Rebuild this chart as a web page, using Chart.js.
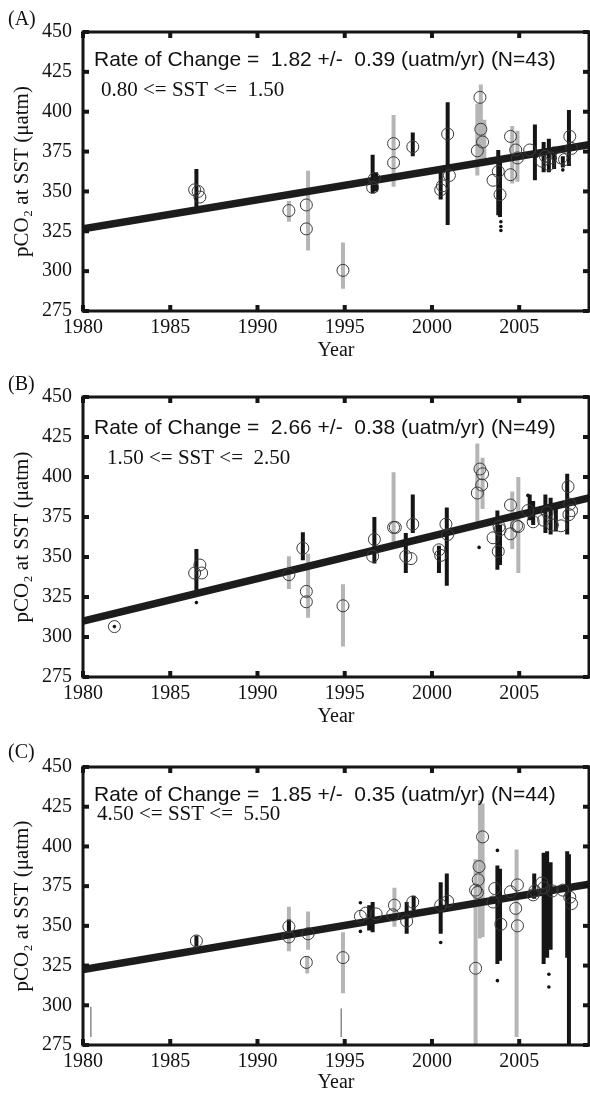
<!DOCTYPE html>
<html>
<head>
<meta charset="utf-8">
<script src="https://cdn.jsdelivr.net/npm/chart.js@4.4.1/dist/chart.umd.min.js"></script>
<style>
    html, body { margin: 0; padding: 0; background: #fff; }
    body { width: 590px; height: 1095px; position: relative; overflow: hidden; }
    .panel { position: absolute; left: 0; width: 590px; height: 365px; }
</style>
</head>
<body>
<div class="panel" style="top:0px"><canvas id="chartA" width="590" height="365"></canvas></div>
<div class="panel" style="top:365px"><canvas id="chartB" width="590" height="365"></canvas></div>
<div class="panel" style="top:730px"><canvas id="chartC" width="590" height="365"></canvas></div>
<script>
// axis ticks, shared by the three panels
var xTicks = [1980, 1985, 1990, 1995, 2000, 2005];
var yTicks = [275, 300, 325, 350, 375, 400, 425, 450];

// (A) 0.80 <= SST <= 1.50
var aFitYears = [1980, 2009];
var aFitValues = [326.5, 379.3];
var aCircleYears = [1986.4, 1986.6, 1986.7, 1991.8, 1992.8, 1992.8, 1994.9, 1996.6, 1996.7, 1997.8, 1997.8, 1998.9,
    2000.5, 2000.6, 2000.9, 2001.0, 2002.6, 2002.75, 2002.8, 2002.9, 2003.5, 2003.8, 2003.9,
    2004.5, 2004.5, 2004.8, 2004.9, 2005.6, 2006.3, 2006.5, 2006.7, 2006.8, 2007.4, 2007.6, 2007.9, 2008.0];
var aCircleValues = [351, 350, 346.5, 338, 341.5, 326.5, 300.5, 352.5, 358, 380, 368, 378,
    351, 353.5, 386, 360, 375.5, 409, 389, 381, 357, 362.5, 348,
    384.5, 360.5, 376, 371, 376, 369, 372, 367, 371, 371, 370, 384.5, 377];
var aBlackYears = [1986.5, 1996.6, 1996.8, 1998.9, 2000.5, 2000.9, 2003.8, 2003.9, 2005.9, 2006.4, 2006.7, 2007.0, 2007.5, 2007.85];
var aBlackLow = [338, 349, 350, 372, 345, 329, 335, 334, 357, 362, 362, 364, 365, 366];
var aBlackHigh = [364, 373, 362, 387, 362, 406, 376, 372, 392, 381, 383, 378, 372, 401];
var aGrayYears = [1991.8, 1992.9, 1994.9, 1997.8, 2002.6, 2002.8, 2003.0, 2004.6, 2004.9];
var aGrayLow = [331, 313, 289, 353, 360, 368, 370, 355, 356];
var aGrayHigh = [344, 363, 318, 398, 405, 417, 395, 391, 388];
var aDotYears = [2003.95, 2003.95, 2003.95, 2007.5];
var aDotValues = [331, 328, 325.5, 363.5];

// (B) 1.50 <= SST <= 2.50
var bFitYears = [1980, 2009];
var bFitValues = [310, 387];
var bCircleYears = [1981.8, 1986.4, 1986.7, 1986.8, 1991.8, 1992.6, 1992.8, 1992.8, 1994.9, 1996.6, 1996.7,
    1997.8, 1997.9, 1998.5, 1998.8, 1998.9, 2000.4, 2000.5, 2000.8, 2000.9, 2002.6, 2002.75, 2002.85, 2002.9,
    2003.5, 2003.8, 2003.85, 2003.9, 2004.5, 2004.5, 2004.85, 2004.95, 2005.5, 2005.8, 2006.4, 2006.6, 2006.9,
    2007.4, 2007.8, 2007.85, 2007.9, 2008.0];
var bCircleValues = [306.5, 340, 345, 340, 339, 355.5, 328.5, 322, 319.5, 350.5, 361,
    368.5, 368.5, 350.5, 349, 370.5, 354.5, 351, 370.5, 364, 390, 405, 395, 402,
    362, 353.5, 369, 367, 382.5, 364.5, 369.5, 369, 379, 372, 373, 378, 370,
    369.5, 394, 376.5, 383, 379];
var bBlackYears = [1986.5, 1992.6, 1996.7, 1998.5, 1998.9, 2000.4, 2000.85, 2003.75, 2003.9, 2005.6, 2005.8, 2006.5, 2006.8, 2007.1, 2007.75];
var bBlackLow = [329, 348, 346, 340, 365, 340, 332, 342, 345, 373, 370, 365, 364, 366, 364];
var bBlackHigh = [355, 365.5, 375, 365, 389, 357, 381, 379, 370, 389, 385, 389, 387, 380, 402];
var bGrayYears = [1991.8, 1992.9, 1994.9, 1997.8, 2002.6, 2002.9, 2004.6, 2004.95];
var bGrayLow = [330, 312, 294, 358, 372, 380, 355, 340];
var bGrayHigh = [350.5, 352, 333, 403, 421, 412, 391, 400];
var bDotYears = [1981.8, 1986.5, 2002.7, 2005.5];
var bDotValues = [306.5, 321.5, 356, 388.5];

// (C) 4.50 <= SST <= 5.50
var cFitYears = [1980, 2009];
var cFitValues = [322.5, 376.2];
var cCircleYears = [1986.5, 1991.8, 1991.8, 1992.9, 1992.8, 1994.9, 1995.9, 1996.2, 1996.8, 1997.85, 1997.75,
    1998.55, 1998.9, 2000.5, 2000.9, 2002.5, 2002.6, 2002.65, 2002.7, 2002.9, 2002.5, 2003.6, 2003.5, 2003.95,
    2004.5, 2004.9, 2004.8, 2004.9, 2005.8, 2005.9, 2006.3, 2006.4, 2006.9, 2007.5, 2008.0, 2007.9];
var cCircleValues = [340.5, 349.5, 343, 345, 327, 330, 356, 358, 357.5, 363, 357,
    353, 365, 363, 365.5, 372.5, 371, 379, 387.3, 406, 323.3, 373.5, 365, 351,
    371.5, 375.8, 361, 350, 369.5, 372, 377, 374, 372, 372.5, 364, 368];
var cBlackYears = [1986.5, 1991.8, 1996.4, 1996.6, 1998.55, 1998.95, 2000.5, 2000.85, 2003.75, 2003.9, 2005.86, 2006.4, 2006.6, 2006.8, 2007.75, 2007.85];
var cBlackLow = [337, 345, 347, 346, 345, 360, 345, 361, 326, 328, 367, 326, 330, 335, 330, 275];
var cBlackHigh = [344, 354, 363, 365, 365, 369, 377.5, 383, 388, 386, 383, 396, 397, 390, 397, 395];
var cGrayYears = [1991.8, 1992.9, 1992.85, 1994.9, 1997.85, 2002.5, 2002.75, 2002.9, 2004.85];
var cGrayLow = [334, 335, 320, 307.5, 349.5, 275, 342, 343, 280];
var cGrayHigh = [362, 359, 331, 346, 374, 392, 429, 427, 398];
var cThinYears = [1980.45, 1994.8];
var cThinLow = [280, 280];
var cThinHigh = [299, 298];
var cDotYears = [1995.9, 1995.9, 2000.5, 2003.75, 2003.75, 2006.7, 2006.7];
var cDotValues = [364.5, 346.5, 339.5, 397.5, 315.5, 319.5, 311.5];

var SERIF = "'Liberation Serif', 'DejaVu Serif', serif";
var SANS = "'Liberation Sans', Arial, sans-serif";

function points(xs, ys) {
    return xs.map(function (x, i) { return { x: x, y: ys[i] }; });
}

// each column: bottom point, top point, then a gap
function columns(xs, low, high) {
    var pts = [];
    for (var i = 0; i < xs.length; i++) {
        pts.push({ x: xs[i], y: low[i] });
        pts.push({ x: xs[i], y: high[i] });
        pts.push({ x: xs[i], y: null });
    }
    return pts;
}

// frame, inward ticks and the panel texts
var panelText = {
    id: 'panelText',
    afterDatasetsDraw: function (chart, args, opts) {
        var ctx = chart.ctx;
        var a = chart.chartArea;
        var sx = chart.scales.x;
        var sy = chart.scales.y;
        ctx.save();
        ctx.fillStyle = '#151515';
        xTicks.forEach(function (v) {
            var px = sx.getPixelForValue(v);
            ctx.fillRect(px - 2, a.bottom - 6, 4, 6);
            ctx.fillRect(px - 2, a.top, 4, 6);
        });
        yTicks.forEach(function (v) {
            var py = sy.getPixelForValue(v);
            ctx.fillRect(a.left, py - 2, 6, 4);
            ctx.fillRect(a.right - 6, py - 2, 6, 4);
        });
        ctx.strokeStyle = '#151515';
        ctx.lineWidth = 3;
        ctx.strokeRect(a.left, a.top, a.right - a.left, a.bottom - a.top);

        ctx.textBaseline = 'middle';
        ctx.textAlign = 'left';
        ctx.fillStyle = '#111';
        ctx.font = '20px ' + SERIF;
        ctx.fillText(opts.label, 8, opts.labelY);
        ctx.font = '21px ' + SANS;
        ctx.fillText(opts.rate, 94, opts.rateY);
        ctx.font = '21px ' + SERIF;
        ctx.fillText(opts.range, opts.rangeX, opts.rangeY);
        ctx.restore();
    }
};

function makePanel(id, p) {
    var ctx = document.getElementById(id);
    new Chart(ctx, {
        type: 'scatter',
        data: {
            datasets: [
                {
                    data: points(p.circleYears, p.circleValues),
                    pointRadius: 6,
                    borderColor: '#3a3a3a',
                    borderWidth: 1,
                    backgroundColor: 'rgba(0,0,0,0)'
                },
                {
                    data: points(p.dotYears, p.dotValues),
                    pointRadius: 1.8,
                    borderWidth: 0,
                    backgroundColor: '#111'
                },
                {
                    data: points(p.fitYears, p.fitValues),
                    showLine: true,
                    borderColor: '#1c1c1c',
                    borderWidth: 7.5,
                    pointRadius: 0
                },
                {
                    data: columns(p.blackYears, p.blackLow, p.blackHigh),
                    showLine: true,
                    spanGaps: false,
                    borderColor: '#151515',
                    borderWidth: 4,
                    pointRadius: 0
                },
                {
                    data: columns(p.grayYears, p.grayLow, p.grayHigh),
                    showLine: true,
                    spanGaps: false,
                    borderColor: '#b5b5b5',
                    borderWidth: 4,
                    pointRadius: 0
                },
                {
                    data: columns(p.thinYears || [], p.thinLow || [], p.thinHigh || []),
                    showLine: true,
                    spanGaps: false,
                    borderColor: '#8a8a8a',
                    borderWidth: 1.5,
                    pointRadius: 0
                }
            ]
        },
        options: {
            responsive: false,
            animation: false,
            events: [],
            layout: {
                autoPadding: false,
                padding: { top: p.top, right: 1, left: 0, bottom: 0 }
            },
            plugins: {
                legend: { display: false },
                tooltip: { enabled: false },
                panelText: p.text
            },
            scales: {
                x: {
                    type: 'linear',
                    min: 1980,
                    max: 2009,
                    afterBuildTicks: function (s) {
                        s.ticks = xTicks.map(function (v) { return { value: v }; });
                    },
                    afterFit: function (s) { s.height = 365 - p.bottom; },
                    grid: { display: false, drawTicks: false },
                    border: { display: false },
                    ticks: {
                        padding: 5,
                        color: '#111',
                        maxRotation: 0,
                        autoSkip: false,
                        font: { family: SERIF, size: 20 },
                        callback: function (v) { return String(v); }
                    },
                    title: {
                        display: true,
                        text: 'Year',
                        color: '#111',
                        font: { family: SERIF, size: 20 },
                        padding: { top: 0, bottom: p.yearPad }
                    }
                },
                y: {
                    min: 275,
                    max: 450,
                    afterBuildTicks: function (s) {
                        s.ticks = yTicks.map(function (v) { return { value: v }; });
                    },
                    afterFit: function (s) { s.width = 83; },
                    grid: { display: false, drawTicks: false },
                    border: { display: false },
                    ticks: {
                        padding: 11,
                        color: '#111',
                        autoSkip: false,
                        font: { family: SERIF, size: 20 },
                        callback: function (v) { return String(v); }
                    },
                    title: {
                        display: true,
                        text: 'pCO\u2082 at SST (\u03bcatm)',
                        color: '#111',
                        font: { family: SERIF, size: 21 },
                        padding: { top: 10, bottom: 0 }
                    }
                }
            }
        },
        plugins: [panelText]
    });
}

makePanel('chartA', {
    top: 32, bottom: 311, yearPad: 2,
    fitYears: aFitYears, fitValues: aFitValues,
    circleYears: aCircleYears, circleValues: aCircleValues,
    blackYears: aBlackYears, blackLow: aBlackLow, blackHigh: aBlackHigh,
    grayYears: aGrayYears, grayLow: aGrayLow, grayHigh: aGrayHigh,
    dotYears: aDotYears, dotValues: aDotValues,
    text: {
        label: '(A)', labelY: 20,
        rate: 'Rate of Change =  1.82 +/-  0.39 (uatm/yr) (N=43)', rateY: 60,
        range: '0.80 <= SST <=  1.50', rangeX: 101, rangeY: 90
    }
});

makePanel('chartB', {
    top: 32, bottom: 312, yearPad: 1,
    fitYears: bFitYears, fitValues: bFitValues,
    circleYears: bCircleYears, circleValues: bCircleValues,
    blackYears: bBlackYears, blackLow: bBlackLow, blackHigh: bBlackHigh,
    grayYears: bGrayYears, grayLow: bGrayLow, grayHigh: bGrayHigh,
    dotYears: bDotYears, dotValues: bDotValues,
    text: {
        label: '(B)', labelY: 20,
        rate: 'Rate of Change =  2.66 +/-  0.38 (uatm/yr) (N=49)', rateY: 63,
        range: '1.50 <= SST <=  2.50', rangeX: 107, rangeY: 93
    }
});

makePanel('chartC', {
    top: 37, bottom: 315, yearPad: 0,
    fitYears: cFitYears, fitValues: cFitValues,
    circleYears: cCircleYears, circleValues: cCircleValues,
    blackYears: cBlackYears, blackLow: cBlackLow, blackHigh: cBlackHigh,
    grayYears: cGrayYears, grayLow: cGrayLow, grayHigh: cGrayHigh,
    thinYears: cThinYears, thinLow: cThinLow, thinHigh: cThinHigh,
    dotYears: cDotYears, dotValues: cDotValues,
    text: {
        label: '(C)', labelY: 23,
        rate: 'Rate of Change =  1.85 +/-  0.35 (uatm/yr) (N=44)', rateY: 65,
        range: '4.50 <= SST <=  5.50', rangeX: 97, rangeY: 84
    }
});
</script>
</body>
</html>
